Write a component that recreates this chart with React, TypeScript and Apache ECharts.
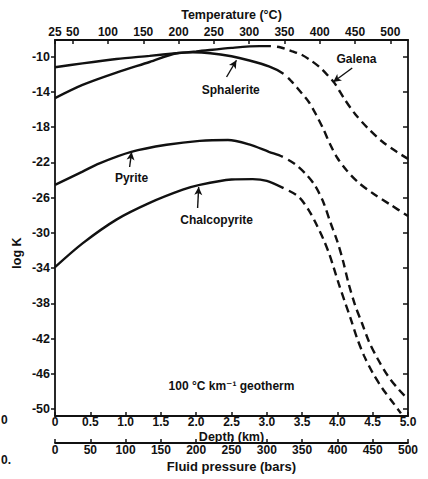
import React, { useEffect, useRef } from "react";
import * as echarts from "echarts";

// ---- data (depth in km, log K) ----
const temperatureTicks = [25, 50, 100, 150, 200, 250, 300, 350, 400, 450, 500];
const logKTicks = [-10, -14, -18, -22, -26, -30, -34, -38, -42, -46, -50];

const galenaSolid: [number, number][] = [
  [0, -11.2], [0.39, -10.75], [0.87, -10.26], [1.34, -9.9], [1.72, -9.6],
  [2.0, -9.4], [2.5, -9.0], [2.9, -8.8], [3.05, -8.8],
];
const galenaDashed: [number, number][] = [
  [3.05, -8.8], [3.2, -8.95], [3.35, -9.35], [3.5, -9.8], [3.62, -10.4],
  [3.75, -11.2], [3.85, -12.0], [3.96, -13.0], [4.1, -14.8], [4.25, -16.5],
  [4.43, -18.1], [4.63, -19.6], [4.84, -20.8], [5.0, -21.6],
];
const sphaleriteSolid: [number, number][] = [
  [0, -14.7], [0.39, -13.2], [0.87, -11.8], [1.34, -10.6], [1.72, -9.6],
  [1.95, -9.5], [2.2, -9.6], [2.5, -9.95], [2.74, -10.4], [3.03, -11.1], [3.23, -11.9],
];
const sphaleriteDashed: [number, number][] = [
  [3.23, -11.9], [3.35, -12.8], [3.5, -14.2], [3.6, -15.2], [3.7, -16.6],
  [3.8, -18.2], [3.9, -20.0], [4.0, -21.5], [4.13, -22.9], [4.3, -24.3],
  [4.5, -25.5], [4.75, -26.8], [5.0, -28.1],
];
const pyriteSolid: [number, number][] = [
  [0, -24.55], [0.39, -23.05], [0.63, -22.1], [1.08, -20.8], [1.58, -20.0],
  [2.05, -19.55], [2.45, -19.45], [2.75, -19.95], [3.03, -20.8], [3.22, -21.35],
];
const pyriteDashed: [number, number][] = [
  [3.22, -21.35], [3.4, -22.2], [3.55, -23.3], [3.68, -24.6], [3.8, -26.5],
  [3.9, -28.8], [4.0, -31.0], [4.08, -33.2], [4.16, -35.8], [4.25, -38.2],
  [4.35, -40.3], [4.45, -42.4], [4.57, -44.3], [4.72, -46.3], [4.87, -47.8], [5.0, -48.9],
];
const chalcopyriteSolid: [number, number][] = [
  [0, -33.9], [0.39, -31.2], [0.87, -28.5], [1.34, -26.6], [1.81, -25.1],
  [2.05, -24.55], [2.5, -23.95], [2.8, -23.9], [3.0, -24.1], [3.23, -24.9],
];
const chalcopyriteDashed: [number, number][] = [
  [3.23, -24.9], [3.45, -25.9], [3.6, -27.5], [3.7, -29.0], [3.8, -30.7],
  [3.88, -32.3], [3.95, -34.0], [4.02, -35.8], [4.1, -37.7], [4.19, -39.8],
  [4.28, -42.0], [4.38, -44.0], [4.5, -45.9], [4.64, -47.7], [4.78, -49.2], [4.9, -50.5],
];

// annotations (data coordinates)
const labelNames = ["Galena", "Sphalerite", "Pyrite", "Chalcopyrite"];
const labelDepth = [4.27, 2.49, 1.085, 2.29];
const labelLogK = [-10.26, -13.78, -23.76, -28.53];
const arrowTail: [number, number][] = [[4.21, -11.28], [2.43, -12.3], [1.057, -22.52], [2.02, -27.17]];
const arrowHead: [number, number][] = [[3.94, -12.87], [2.57, -10.4], [1.085, -20.82], [2.035, -24.79]];
const geothermNote = "100 °C km⁻¹ geotherm";
const geothermPos: [number, number] = [2.5, -47.4];

const FONT = "'Liberation Sans', 'DejaVu Sans', sans-serif";
const INK = "#111";

const minerals = [
  { name: "Galena", solid: galenaSolid, dashed: galenaDashed },
  { name: "Sphalerite", solid: sphaleriteSolid, dashed: sphaleriteDashed },
  { name: "Pyrite", solid: pyriteSolid, dashed: pyriteDashed },
  { name: "Chalcopyrite", solid: chalcopyriteSolid, dashed: chalcopyriteDashed },
];

export default function App() {
  const ref = useRef<HTMLDivElement>(null);
  useEffect(() => {
    document.body.style.margin = "0";
    const chart = echarts.init(ref.current!, null, { renderer: "svg" });
    const txt = { color: INK, fontFamily: FONT, fontWeight: "bold" as const, fontSize: 12 };
    const yRange = { min: -50.8, max: -8.1 };
    const buildSeries = (dash: (number[] | string)[]) =>
      minerals.map((m, i) => ({
        type: "line",
        name: m.name,
        data: m.solid.concat(m.dashed.slice(1)),
        xAxisIndex: 0,
        yAxisIndex: 0,
        smooth: 0.3,
        symbol: "none",
        showSymbol: false,
        silent: true,
        lineStyle: { color: INK, width: 2.4, type: dash[i], cap: "butt" },
        ...(i === 0
          ? {
              markLine: {
                silent: true,
                symbol: ["none", "arrow"],
                symbolSize: [6, 8],
                label: { show: false },
                lineStyle: { color: INK, width: 1.4, type: "solid" },
                data: arrowTail.map((t, k) => [{ coord: t }, { coord: arrowHead[k] }]),
              },
            }
          : {}),
      }));
    const axisName = (fs: number) => ({ ...txt, fontSize: fs });
    chart.setOption({
      animation: false,
      grid: { left: 55, right: 20, top: 40, bottom: 63 },
      xAxis: [
        {
          type: "value", position: "bottom", min: 0, max: 5, interval: 0.5,
          name: "Depth (km)", nameLocation: "middle", nameGap: 14, nameMoveOverlap: false,
          nameTextStyle: axisName(12.5),
          axisLine: { show: true, onZero: false, lineStyle: { color: INK, width: 1.8 } },
          axisTick: { show: true, inside: true, length: 4, lineStyle: { color: INK, width: 1.5 } },
          axisLabel: { ...txt, margin: 0, formatter: (v: number) => (v === 0 ? "0" : v.toFixed(1)) },
          splitLine: { show: false },
        },
        {
          type: "value", position: "top", min: 25, max: 525,
          name: "Temperature (°C)", nameLocation: "middle", nameGap: 19, nameMoveOverlap: false,
          nameTextStyle: axisName(12.5),
          axisLine: { show: true, onZero: false, lineStyle: { color: INK, width: 1.8 } },
          axisTick: { show: true, inside: true, length: 4, customValues: temperatureTicks, lineStyle: { color: INK, width: 1.5 } },
          axisLabel: { ...txt, margin: 2, customValues: temperatureTicks },
          splitLine: { show: false },
        },
        {
          type: "value", position: "bottom", offset: 27, min: 0, max: 500, interval: 50,
          name: "Fluid pressure (bars)", nameLocation: "middle", nameGap: 17, nameMoveOverlap: false,
          nameTextStyle: axisName(13),
          axisLine: { show: true, onZero: false, lineStyle: { color: INK, width: 1.8 } },
          axisTick: { show: true, inside: true, length: 4, lineStyle: { color: INK, width: 1.5 } },
          axisLabel: { ...txt, margin: 1 },
          splitLine: { show: false },
        },
      ],
      yAxis: [
        {
          type: "value", position: "left", ...yRange,
          axisLine: { show: true, onZero: false, lineStyle: { color: INK, width: 1.8 } },
          axisTick: { show: true, inside: false, length: 4, customValues: logKTicks, lineStyle: { color: INK, width: 1.5 } },
          axisLabel: { ...txt, fontSize: 12.5, margin: 5, customValues: logKTicks },
          splitLine: { show: false },
        },
        {
          type: "value", position: "right", ...yRange,
          axisLine: { show: true, onZero: false, lineStyle: { color: INK, width: 1.8 } },
          axisTick: { show: true, inside: true, length: 5, customValues: logKTicks, lineStyle: { color: INK, width: 1.5 } },
          axisLabel: { show: false },
          splitLine: { show: false },
        },
      ],
      series: buildSeries(minerals.map(() => "solid")),
    });

    const px = (p: [number, number]) => chart.convertToPixel({ xAxisIndex: 0, yAxisIndex: 0 }, p) as number[];

    // dash pattern: solid for the measured part, dashed for the extrapolated part
    const dashes = minerals.map((m) => {
      let len = 0;
      for (let k = 1; k < m.solid.length; k++) {
        const a = px(m.solid[k - 1]);
        const b = px(m.solid[k]);
        len += Math.hypot(b[0] - a[0], b[1] - a[1]);
      }
      const pattern: number[] = [len * 1.003, 6];
      for (let k = 0; k < 80; k++) pattern.push(8, 5);
      return pattern;
    });

    const graphics: any[] = labelNames.map((name, i) => {
      const [x, y] = px([labelDepth[i], labelLogK[i]]);
      return { type: "text", x, y, style: { text: name, ...txt, align: "center", verticalAlign: "middle", fill: INK } };
    });
    const [gx, gy] = px(geothermPos);
    graphics.push({ type: "text", x: gx, y: gy, style: { text: geothermNote, ...txt, align: "center", verticalAlign: "middle", fill: INK } });
    graphics.push({ type: "text", x: 17, y: 253, rotation: Math.PI / 2, style: { text: "log K", ...txt, fontSize: 12.5, align: "center", verticalAlign: "middle", fill: INK } });
    graphics.push({ type: "text", x: 1, y: 420, style: { text: "0", ...txt, verticalAlign: "middle", fill: INK } });
    graphics.push({ type: "text", x: 1, y: 460, style: { text: "0.", ...txt, verticalAlign: "middle", fill: INK } });

    chart.setOption({ series: buildSeries(dashes), graphic: graphics });

    return () => chart.dispose();
  }, []);
  return <div ref={ref} style={{ width: 428, height: 479 }} />;
}
